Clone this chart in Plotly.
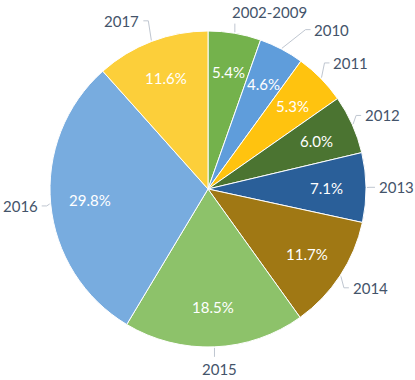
import math

import plotly.graph_objects as go


# Data
labels = ["2002-2009", "2010", "2011", "2012", "2013", "2014", "2015", "2016", "2017"]
shares = [5.4, 4.6, 5.3, 6.0, 7.1, 11.7, 18.5, 29.8, 11.6]
colors = ["#74b24c", "#5f9ddb", "#ffc30f", "#4b7431", "#2a5f99",
          "#a07814", "#8dc26a", "#78acdf", "#fccf3a"]

W, H = 415, 380
CX, CY, R = 208, 189, 158  # pie centre / radius in pixels
FONT = "Lato"
TXT = "#44546a"


def paper(x, y):
    return x / W, 1 - y / H


fig = go.Figure()
fig.add_trace(go.Pie(
    labels=labels, values=shares,
    sort=False, direction="clockwise", rotation=0,
    marker=dict(colors=colors, line=dict(color="white", width=1)),
    textinfo="none", hoverinfo="label+percent",
    showlegend=False,
    domain=dict(x=[(CX - R) / W, (CX + R) / W],
                y=[(H - CY - R) / H, (H - CY + R) / H]),
))

# labels: percent inside, year outside with an elbow leader line
total = sum(shares)
cum = 0.0
annotations, shapes = [], []
prev = None  # previous outside label box (right edge, y centre)
for lab, v in zip(labels, shares):
    a = 2 * math.pi * (cum + v / 2) / total
    cum += v
    s, c = math.sin(a), math.cos(a)

    px, py = paper(CX + 0.75 * R * s, CY - 0.75 * R * c)
    annotations.append(dict(x=px, y=py, xref="paper", yref="paper",
                            xanchor="center", yanchor="middle",
                            text=f"{v:.1f}%", showarrow=False,
                            font=dict(family=FONT, size=15, color="white")))

    hw, hh = len(lab) * 4.35, 8
    ex, ey = CX + (R + 1) * s, CY - (R + 1) * c
    k = max(-1.0, min(1.0, 4 * s))
    tx, ty = ex + k * (hw + 12), ey - 21 * c
    # push right-hand labels sideways if they crowd the previous one
    if prev and s > 0 and abs(ty - prev[1]) < 2 * hh + 6 and tx - hw < prev[0] + 6:
        tx = prev[0] + 6 + hw
    prev = (tx + hw, ty)

    lx, ly = paper(tx, ty)
    annotations.append(dict(x=lx, y=ly, xref="paper", yref="paper",
                            xanchor="center", yanchor="middle",
                            text=lab, showarrow=False,
                            font=dict(family=FONT, size=15, color=TXT)))

    if abs(k) >= 1:
        sg = 1 if s > 0 else -1
        end = (tx - sg * (hw + 4), ty)
        elbow = (end[0] - sg * 5, ty)
        pts = [(ex, ey), elbow, end]
    else:
        sg = 1 if c > 0 else -1
        pts = [(ex, ey), (ex, ty + sg * (hh + 4))]
    path = " ".join(("M" if i == 0 else "L") + " %.4f %.4f" % paper(*p)
                    for i, p in enumerate(pts))
    shapes.append(dict(type="path", path=path, xref="paper", yref="paper",
                       line=dict(color="#bfc6d0", width=1)))

fig.update_layout(
    width=W, height=H,
    margin=dict(l=0, r=0, t=0, b=0),
    paper_bgcolor="white",
    annotations=annotations,
    shapes=shapes,
)

fig.write_html("out.html", config={"displayModeBar": False},
               post_script="document.body.style.margin='0';")
